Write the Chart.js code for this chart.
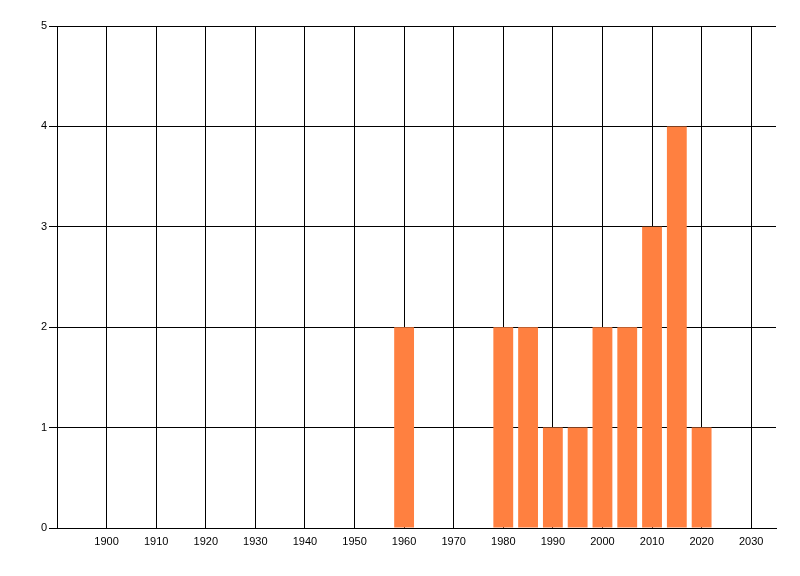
<!DOCTYPE html>
<html>
<head>
<meta charset="utf-8">
<script src="https://cdn.jsdelivr.net/npm/chart.js@4/dist/chart.umd.min.js"></script>
<style>
html,body{margin:0;padding:0;background:#fff;}
#wrap{width:800px;height:576px;}
</style>
</head>
<body>
<div id="wrap"><canvas id="c" width="800" height="576"></canvas></div>
<script>
const years = [1960, 1980, 1985, 1990, 1995, 2000, 2005, 2010, 2015, 2020];
const counts = [2, 2, 2, 1, 1, 2, 2, 3, 4, 1];
const xTickYears = [1900, 1910, 1920, 1930, 1940, 1950, 1960, 1970, 1980, 1990, 2000, 2010, 2020, 2030];
const yTickValues = [0, 1, 2, 3, 4, 5];

const points = years.map((y, i) => ({x: y, y: counts[i]}));
const tickFont = {family: 'Liberation Sans, Arial, sans-serif', size: 11};

new Chart(document.getElementById('c'), {
  type: 'bar',
  data: {
    datasets: [{
      data: points,
      backgroundColor: '#FF8040',
      borderWidth: 0,
      barPercentage: 1.0,
      categoryPercentage: 0.8
    }]
  },
  options: {
    responsive: false,
    animation: false,
    devicePixelRatio: 1,
    layout: {padding: {left: 0, right: 24, top: 26, bottom: 0}},
    plugins: {legend: {display: false}, tooltip: {enabled: false}},
    scales: {
      x: {
        type: 'linear',
        min: 1890,
        max: 2035,
        offset: false,
        afterBuildTicks: (s) => { s.ticks = xTickYears.map(v => ({value: v})); },
        afterFit: (s) => { s.height = 48; },
        grid: {color: '#000', lineWidth: 1, drawTicks: false, offset: false},
        border: {color: '#000', width: 1},
        ticks: {color: '#000', font: tickFont, padding: 7, maxRotation: 0, autoSkip: false, callback: (v) => String(v)}
      },
      y: {
        min: 0,
        max: 5,
        afterBuildTicks: (s) => { s.ticks = yTickValues.map(v => ({value: v})); },
        afterFit: (s) => { s.width = 57; },
        grid: {color: '#000', lineWidth: 1, drawTicks: true, tickLength: 8},
        border: {color: '#000', width: 1},
        ticks: {color: '#000', font: tickFont, padding: 2, callback: (v) => String(v)}
      }
    }
  }
});
</script>
</body>
</html>
